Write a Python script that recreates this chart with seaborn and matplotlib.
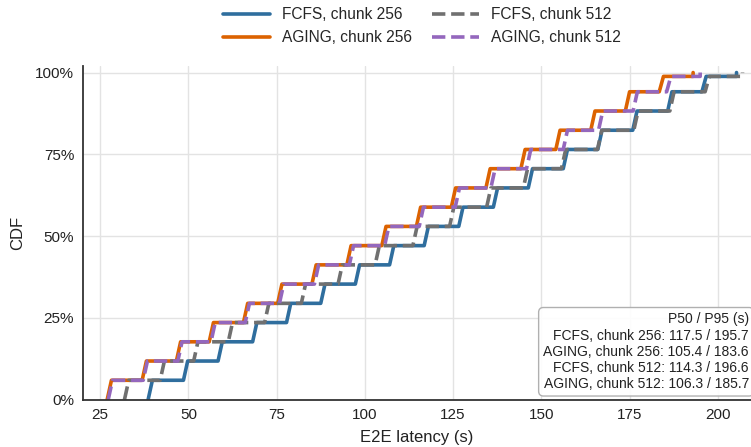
import numpy as np
import pandas as pd
import matplotlib
matplotlib.use("Agg")
import matplotlib.pyplot as plt
from matplotlib.ticker import PercentFormatter
import seaborn as sns

# ---- data ----
series_names = ["FCFS, chunk 256", "AGING, chunk 256", "FCFS, chunk 512", "AGING, chunk 512"]
# onset (s) of each of the 17 CDF steps
fcfs_256 = [38.6, 48.6, 58.4, 68.2, 77.8, 87.5, 97.3, 107.0, 116.8, 126.6, 136.4, 146.3, 156.2, 166.0, 175.9, 185.8, 195.5]
aging_256 = [27.0, 36.9, 46.6, 55.9, 65.6, 75.3, 85.0, 94.9, 104.8, 114.6, 124.5, 134.3, 144.2, 154.1, 164.0, 173.8, 183.4]
fcfs_512 = [31.9, 42.0, 51.5, 61.3, 71.6, 82.0, 92.4, 102.9, 113.6, 124.0, 134.5, 144.9, 155.7, 165.9, 176.2, 186.4, 196.4]
aging_512 = [27.3, 37.2, 47.0, 56.4, 66.1, 75.8, 85.7, 95.6, 105.6, 115.4, 125.6, 135.7, 145.8, 156.2, 166.2, 176.0, 185.5]
# latency of the last (straggler) request
last_request = [205.3, 193.0, 207.0, 195.0]
# CDF levels reached after each step (85 requests, 5 per batch, last one straggles)
n_requests = 85
batch_size = 5
stats_p50 = [117.5, 105.4, 114.3, 106.3]
stats_p95 = [195.7, 183.6, 196.6, 185.7]

colors = ["#2f6e9e", "#dc6200", "#707070", "#9467bd"]
styles = ["-", "-", "--", "--"]
rise = 1.2

sns.set_theme(style="whitegrid")
plt.rcParams["font.family"] = ["Liberation Sans", "DejaVu Sans"]

fig = plt.figure(figsize=(7.51, 4.47), dpi=100)
ax = fig.add_axes([82.5 / 751, (447 - 399.5) / 447, (751 - 82.5) / 751, (399.5 - 66) / 447])

onsets_all = [fcfs_256, aging_256, fcfs_512, aging_512]
for name, onsets, last, c, ls in zip(series_names, onsets_all, last_request, colors, styles):
    xs, ys = [], []
    prev = 0.0
    for k, t in enumerate(onsets):
        lvl = min((k + 1) * batch_size, n_requests - 1) / n_requests
        xs += [t, t + rise]
        ys += [prev, lvl]
        prev = lvl
    xs += [last, last]
    ys += [prev, 1.0]
    df = pd.DataFrame({"latency": xs, "cdf": ys})
    sns.lineplot(data=df, x="latency", y="cdf", ax=ax, sort=False, estimator=None,
                 color=c, linestyle=ls, linewidth=2.6, label=name)

ax.set_xlim(20, 209.4)
ax.set_ylim(0, 1.02)
ax.set_xticks([25, 50, 75, 100, 125, 150, 175, 200])
ax.set_yticks([0, 0.25, 0.5, 0.75, 1.0])
ax.yaxis.set_major_formatter(PercentFormatter(1.0, decimals=0))
ax.tick_params(labelsize=11, length=0, pad=6, colors="#222222")
ax.set_xlabel("E2E latency (s)", fontsize=12, color="#222222", labelpad=6)
ax.set_ylabel("CDF", fontsize=12, color="#222222", labelpad=7)
ax.grid(True, color="#e3e3e3", linewidth=1.0)
sns.despine(ax=ax)
for s in ["left", "bottom"]:
    ax.spines[s].set_color("#333333")
    ax.spines[s].set_linewidth(1.3)

handles, labels = ax.get_legend_handles_labels()
ax.get_legend().remove()
fig.legend(handles, labels, loc="upper center", bbox_to_anchor=(0.562, 1.015), ncol=2,
           frameon=False, fontsize=11.2, handlelength=3.0, handletextpad=0.8,
           columnspacing=1.3, labelspacing=0.5)

lines = ["P50 / P95 (s)"] + [f"{n}: {a} / {b}" for n, a, b in zip(series_names, stats_p50, stats_p95)]
ax.text(0.997, 0.025, "\n".join(lines), transform=ax.transAxes, ha="right", va="bottom",
        fontsize=10, color="#222222", multialignment="right",
        bbox=dict(boxstyle="round,pad=0.35", facecolor="white", edgecolor="#aaaaaa", alpha=0.92))

fig.savefig("out.png", dpi=100)
